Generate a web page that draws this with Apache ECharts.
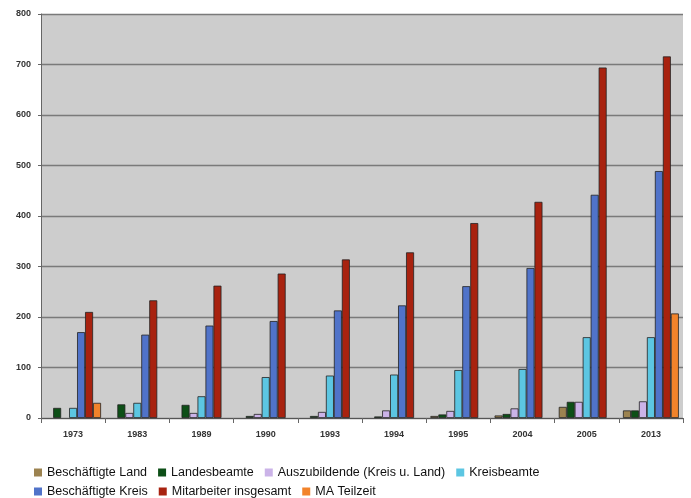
<!DOCTYPE html>
<html>
<head>
<meta charset="utf-8">
<script src="https://cdn.jsdelivr.net/npm/echarts@6/dist/echarts.min.js"></script>
<style>
  html, body { margin: 0; padding: 0; background: #ffffff; }
  #chart { width: 691px; height: 498px; }
</style>
</head>
<body>
<div id="chart"></div>
<script>
// Jahre der Erhebung
const years = ['1973', '1983', '1989', '1990', '1993', '1994', '1995', '2004', '2005', '2013'];

// Personalbestand je Gruppe
const beschaeftigteLand = [0, 0, 0, 0, 0, 0, 4, 5, 22, 15];
const landesbeamte = [20, 27, 26, 4, 4, 3, 7, 8, 32, 15];
const auszubildende = [0, 10, 10, 8, 12, 15, 14, 19, 32, 33];
const kreisbeamte = [20, 30, 43, 81, 84, 86, 95, 97, 160, 160];
const beschaeftigteKreis = [170, 165, 183, 192, 213, 223, 261, 297, 442, 489];
const mitarbeiterGesamt = [210, 233, 262, 286, 314, 328, 386, 428, 694, 716];
const maTeilzeit = [30, 0, 0, 0, 0, 0, 0, 0, 0, 207];

// Achsenbeschriftung
const yTicks = [0, 100, 200, 300, 400, 500, 600, 700, 800];

const seriesDefs = [
  { name: 'Beschäftigte Land', data: beschaeftigteLand, color: '#9c8350' },
  { name: 'Landesbeamte', data: landesbeamte, color: '#0d4f17' },
  { name: 'Auszubildende (Kreis u. Land)', data: auszubildende, color: '#cbb3e8' },
  { name: 'Kreisbeamte', data: kreisbeamte, color: '#5cc6e2' },
  { name: 'Beschäftigte Kreis', data: beschaeftigteKreis, color: '#5073c9' },
  { name: 'Mitarbeiter insgesamt', data: mitarbeiterGesamt, color: '#a8220f' },
  { name: 'MA Teilzeit', data: maTeilzeit, color: '#f2832a' }
];

const chart = echarts.init(document.getElementById('chart'), null, { renderer: 'canvas' });

const legendText = { fontFamily: 'Liberation Sans', fontSize: 12.5, color: '#111' };
const legendBase = {
  left: 34, orient: 'horizontal', icon: 'rect',
  itemWidth: 8, itemHeight: 8, itemGap: 11, padding: 0,
  itemStyle: { borderWidth: 0 },
  textStyle: legendText, selectedMode: false
};

// Leere Werte ohne Randlinie zeichnen
const toBarData = arr => arr.map(v => (v === 0 ? { value: v, itemStyle: { borderWidth: 0 } } : v));

chart.setOption({
  animation: false,
  backgroundColor: '#ffffff',
  color: seriesDefs.map(s => s.color),
  grid: {
    left: 41, right: 8, top: 14, bottom: 80,
    show: true, backgroundColor: '#cdcdcd', borderWidth: 0
  },
  legend: [
    Object.assign({}, legendBase, { top: 466, data: seriesDefs.slice(0, 4).map(s => s.name) }),
    Object.assign({}, legendBase, { top: 485, data: seriesDefs.slice(4).map(s => s.name) })
  ],
  xAxis: {
    type: 'category',
    data: years,
    axisLine: { lineStyle: { color: '#555', width: 1 } },
    axisTick: { show: true, length: 5, lineStyle: { color: '#666' } },
    axisLabel: {
      margin: 12, fontFamily: 'Liberation Sans', fontSize: 9, fontWeight: 'bold', color: '#333'
    }
  },
  yAxis: {
    type: 'value',
    min: yTicks[0], max: yTicks[yTicks.length - 1], interval: 100,
    axisLine: { show: true, lineStyle: { color: '#666', width: 1 } },
    axisTick: { show: true, length: 3, lineStyle: { color: '#666' } },
    axisLabel: {
      margin: 10, fontFamily: 'Liberation Sans', fontSize: 9, fontWeight: 'bold', color: '#333'
    },
    splitLine: { show: true, lineStyle: { color: '#7a7a7a', width: 1.3 } }
  },
  series: seriesDefs.map(s => ({
    name: s.name,
    type: 'bar',
    data: toBarData(s.data),
    barGap: '0%',
    barCategoryGap: '13%',
    itemStyle: { color: s.color, borderColor: '#222', borderWidth: 0.8 }
  }))
});
</script>
</body>
</html>
